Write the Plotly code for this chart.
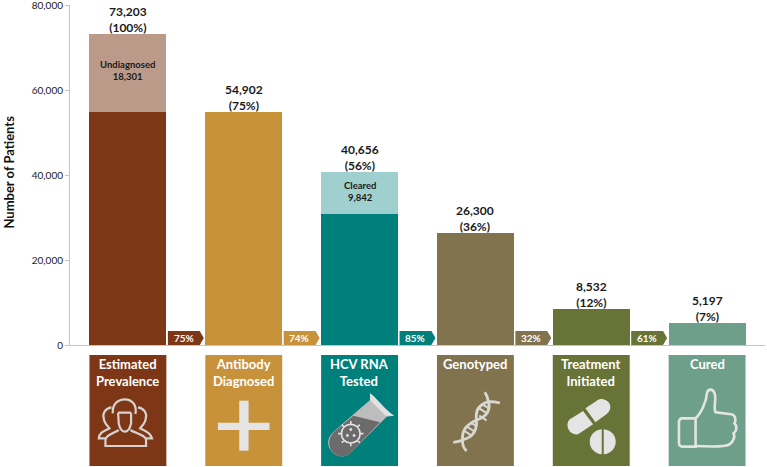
import re

import plotly.graph_objects as go

stages = ["Estimated<br>Prevalence", "Antibody<br>Diagnosed", "HCV RNA<br>Tested", "Genotyped", "Treatment<br>Initiated", "Cured"]
solid_values = [54902, 54902, 30814, 26300, 8532, 5197]
upper_values = [18301, 0, 9842, 0, 0, 0]
percents = [100, 75, 56, 36, 12, 7]
step_percents = [75, 74, 85, 32, 61]
y_ticks = [0, 20000, 40000, 60000, 80000]

solid_colors = ["#7d3716", "#c8923a", "#007f7b", "#82734f", "#687337", "#6e9f8a"]
upper_colors = ["#bc9a8a", "#c8923a", "#9fcfce", "#82734f", "#687337", "#6e9f8a"]
upper_names = {0: "Undiagnosed", 2: "Cleared"}

W, H = 767, 467
LEFT, RIGHT, TOP, BOTTOM = 69.5, 765.5, 5, 345
BAR_W = 0.664
ICON = "#e4e4e4"
FONT = "Lato"


def px_path(path, ox, oy, scale=3.0):
	# icon outlines were traced on 3x crops, this puts them on the paper
	tokens = re.findall(r"[A-Za-z]|-?[\d.]+", path)
	out, is_x = [], True
	for tok in tokens:
		if tok.isalpha():
			out.append(tok)
			continue
		val = float(tok)
		if is_x:
			out.append(f"{(ox + val / scale - LEFT) / (RIGHT - LEFT):.5f}")
		else:
			out.append(f"{(BOTTOM - (oy + val / scale)) / (BOTTOM - TOP):.5f}")
		is_x = not is_x
	return " ".join(out)


def icon_shape(path, ox, oy, fill=None, line=ICON, width=2.2):
	shape = dict(type="path", xref="paper", yref="paper", path=px_path(path, ox, oy),
				 line=dict(color=line, width=width))
	if line is None:
		shape["line"] = dict(width=0)
	if fill:
		shape["fillcolor"] = fill
	return shape


fig = go.Figure()
x_pos = list(range(len(stages)))
fig.add_trace(go.Bar(x=x_pos, y=solid_values, width=BAR_W, marker=dict(color=solid_colors, line=dict(width=0)), hoverinfo="skip"))
fig.add_trace(go.Bar(x=x_pos, y=upper_values, width=BAR_W, marker=dict(color=upper_colors, line=dict(width=0)), hoverinfo="skip"))

shapes = []
annotations = []

for i, stage in enumerate(stages):
	total = solid_values[i] + upper_values[i]
	annotations.append(dict(x=i, y=total, yanchor="bottom", yshift=-3, showarrow=False,
							text=f"<b>{total:,}<br>({percents[i]}%)</b>",
							font=dict(size=12, color="#1a1a1a", family=FONT)))
	if i in upper_names:
		annotations.append(dict(x=i, y=solid_values[i] + upper_values[i] / 2, yshift=2, showarrow=False,
								text=f"<b>{upper_names[i]}<br>{upper_values[i]:,}</b>",
								font=dict(size=9.5, color="#1a1a1a", family=FONT)))
	# label panel under the bar
	shapes.append(dict(type="rect", xref="x", yref="paper", x0=i - BAR_W / 2, x1=i + BAR_W / 2,
					   y0=(BOTTOM - 466) / (BOTTOM - TOP), y1=(BOTTOM - 355) / (BOTTOM - TOP),
					   fillcolor=solid_colors[i], line=dict(width=0)))
	annotations.append(dict(x=i, y=(BOTTOM - 354) / (BOTTOM - TOP), xref="x", yref="paper", yanchor="top", showarrow=False,
							text=f"<b>{stage}</b>", align="center",
							font=dict(size=13, color="white", family=FONT)))

# step conversion chips between the bars
chip_h = 3300
for i, pct in enumerate(step_percents):
	x0, x1 = i + 0.345, i + 0.655
	shapes.append(dict(type="path", xref="x", yref="y",
					   path=f"M {x0} 0 L {x1 - 0.035} 0 L {x1} {chip_h / 2} L {x1 - 0.035} {chip_h} L {x0} {chip_h} Z",
					   fillcolor=solid_colors[i], line=dict(width=0)))
	annotations.append(dict(x=i + 0.48, y=chip_h / 2, showarrow=False, text=f"<b>{pct}%</b>",
							font=dict(size=10, color="white", family=FONT)))

annotations.append(dict(x=(8 - LEFT) / (RIGHT - LEFT), y=(BOTTOM - 172) / (BOTTOM - TOP), xref="paper", yref="paper",
						xshift=-10, textangle=-90, showarrow=False, text="<b>Number of Patients</b>",
						font=dict(size=13, color="#111111", family=FONT)))

# people
ox, oy = 85, 390
PEOPLE = "#d8d2ce"
shapes += [
	icon_shape("M 82 70 C 80 40 100 28 118 28 C 140 28 155 45 150 72 M 98 68 L 137 68 M 98 68 L 100 100 C 102 115 110 125 118 125 C 126 125 134 115 137 100 L 137 68", ox, oy, line=PEOPLE),
	icon_shape("M 100 120 C 85 130 60 135 60 150 L 60 168 L 182 168 L 182 150 C 182 135 150 130 135 120", ox, oy, line=PEOPLE),
	icon_shape("M 78 52 C 60 55 50 70 55 85 C 55 100 68 108 72 115 C 60 122 42 125 40 145 L 60 145", ox, oy, line=PEOPLE),
	icon_shape("M 158 52 C 176 55 186 70 181 85 C 181 100 168 108 164 115 C 176 122 194 125 200 145 L 182 145", ox, oy, line=PEOPLE),
]

# plus
ox, oy = 60, 340
shapes += [
	icon_shape("M 537 182 L 565 182 L 565 332 L 537 332 Z", ox, oy, fill=ICON, line=None),
	icon_shape("M 473 248 L 628 248 L 628 270 L 473 270 Z", ox, oy, fill=ICON, line=None),
]

# test tube
ox, oy = 320, 385
shapes += [
	icon_shape("M 150 25 C 165 35 195 75 222 92 L 200 95 L 90 205 C 70 222 40 215 28 190 C 20 170 25 155 40 140 L 150 45 Z", ox, oy, fill="#bdbdbd", line=None),
	icon_shape("M 150 25 C 165 35 195 75 222 92 L 196 92 C 185 78 165 62 150 45 Z", ox, oy, fill="#e2e2e2", line=None),
	icon_shape("M 100 92 L 180 112 L 90 205 C 70 222 40 215 30 190 C 24 170 28 155 42 140 Z", ox, oy, fill="#6b6b6b", line=None),
	icon_shape("M 92 118 C 108 118 120 130 120 146 C 120 162 108 174 92 174 C 76 174 64 162 64 146 C 64 130 76 118 92 118 Z M 92 108 L 92 118 M 92 174 L 92 184 M 54 146 L 64 146 M 120 146 L 130 146 M 65 119 L 72 126 M 112 166 L 119 173 M 65 173 L 72 166 M 112 126 L 119 119", ox, oy, width=1.6),
	icon_shape("M 92 130 C 96 130 96 137 92 137 C 88 137 88 130 92 130 Z M 82 148 C 86 148 86 155 82 155 C 78 155 78 148 82 148 Z M 102 148 C 106 148 106 155 102 155 C 98 155 98 148 102 148 Z", ox, oy, fill=ICON, width=1),
]

# dna
ox, oy = 440, 385
shapes += [
	icon_shape("M 40 172 Q 58 170 68 165 C 64 130 88 116 110 105 C 132 98 154 85 146 50 Q 143 35 135 22", ox, oy, line="#d8d8d4", width=2.8),
	icon_shape("M 80 198 Q 66 185 68 165 C 84 160 112 152 110 105 C 106 82 112 60 146 50 Q 165 50 180 54", ox, oy, line="#d8d8d4", width=2.8),
	icon_shape("M 72 137 L 97 153 M 80 124 L 106 141 M 91 112 L 112 125 M 118 92 L 140 106 M 118 70 L 143 86 M 128 58 L 147 70", ox, oy, line="#d8d8d4", width=2),
]

# pills
ox, oy = 555, 385
shapes += [
	icon_shape("M 85 78 L 115 118 L 70 148 C 50 150 38 135 38 120 C 38 105 50 100 55 97 Z", ox, oy, fill=ICON, line=None),
	icon_shape("M 92 70 L 122 112 L 155 88 C 170 75 170 60 160 50 C 148 40 135 40 125 48 Z", ox, oy, fill=ICON, line=None),
	icon_shape("M 141 133 C 120 135 105 150 105 170 C 105 190 120 206 141 208 Z", ox, oy, fill=ICON, line=None),
	icon_shape("M 147 133 C 168 135 183 150 183 170 C 183 190 168 206 147 208 Z", ox, oy, fill=ICON, line=None),
]

# thumb
ox, oy = 670, 385
shapes += [
	icon_shape("M 38 100 L 78 100 L 78 185 L 38 185 C 32 185 28 180 28 175 L 28 110 C 28 105 32 100 38 100 Z", ox, oy, width=2.6),
	icon_shape("M 78 100 C 95 85 110 50 112 25 C 115 10 130 10 135 25 C 142 45 130 65 138 82 L 185 88 C 198 90 200 105 195 115 C 205 125 200 140 192 145 C 198 155 190 172 180 178 C 170 185 120 185 78 183", ox, oy, width=2.6),
]

fig.update_layout(
	width=W, height=H,
	margin=dict(l=LEFT, r=W - RIGHT, t=TOP, b=H - BOTTOM, pad=0, autoexpand=False),
	barmode="stack",
	showlegend=False,
	paper_bgcolor="white",
	plot_bgcolor="white",
	shapes=shapes,
	annotations=annotations,
	xaxis=dict(range=[-0.5, 5.5], showticklabels=False, ticks="", showgrid=False, zeroline=False,
			   showline=True, linecolor="#c4c4c4", linewidth=1),
	yaxis=dict(range=[0, 80000], tickvals=y_ticks, tickformat=",", ticks="outside", ticklen=4, tickcolor="#c4c4c4",
			   showgrid=False, zeroline=False, showline=True, linecolor="#c4c4c4", linewidth=1,
			   ticklabeloverflow="allow",
			   tickfont=dict(size=10, color="#1a1a1a", family=FONT)),
)

fig.write_html("out.html", config=dict(displayModeBar=False), post_script="document.body.style.margin='0'")
